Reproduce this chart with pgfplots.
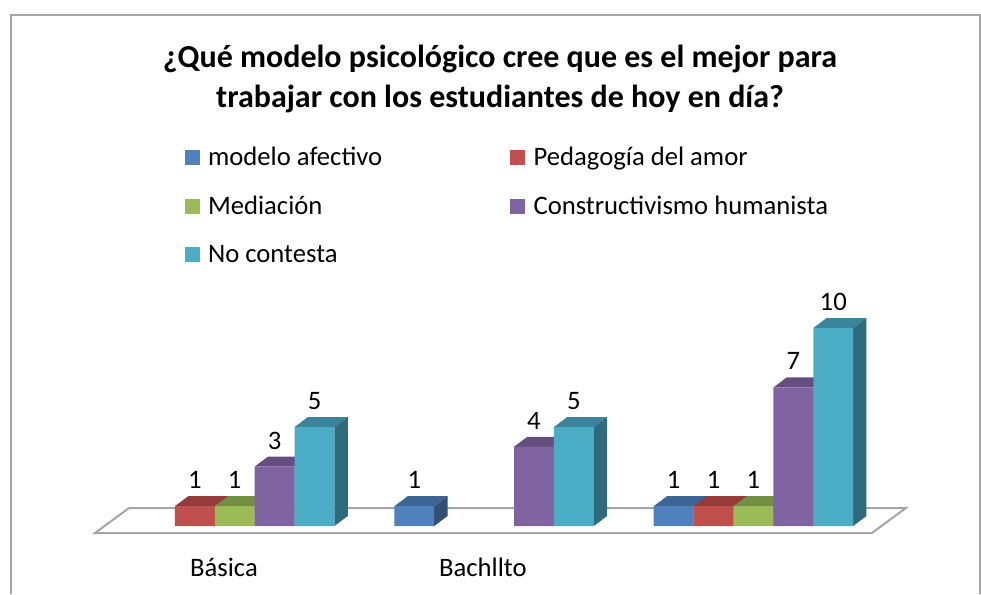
\documentclass[border=0pt]{standalone}
\usepackage{pgfplots}
\usepackage{pgfplotstable}
\usepackage{fontspec}
\setmainfont{Carlito}
\pgfplotsset{compat=1.18}
\definecolor{cA}{HTML}{4F81BD}\definecolor{cAt}{HTML}{3D6594}\definecolor{cAs}{HTML}{324F74}
\definecolor{cB}{HTML}{C0504D}\definecolor{cBt}{HTML}{953C3A}\definecolor{cBs}{HTML}{76302E}
\definecolor{cC}{HTML}{9BBB59}\definecolor{cCt}{HTML}{738F41}\definecolor{cCs}{HTML}{5E7535}
\definecolor{cD}{HTML}{8064A2}\definecolor{cDt}{HTML}{654E7F}\definecolor{cDs}{HTML}{4E3D63}
\definecolor{cE}{HTML}{4BACC6}\definecolor{cEt}{HTML}{3A859B}\definecolor{cEs}{HTML}{2F6B7C}
\definecolor{frame}{HTML}{A6A6A6}
% x = bar centre in bar slots, y = value
\pgfplotstableread{
x y
7 1
13.5 1
}\tA
\pgfplotstableread{
x y
1.5 1
14.5 1
}\tB
\pgfplotstableread{
x y
2.5 1
15.5 1
}\tC
\pgfplotstableread{
x y
3.5 3
10 4
16.5 7
}\tD
\pgfplotstableread{
x y
4.5 5
11 5
17.5 10
}\tE
% top and side faces of a 3-D bar: centre, value, top colour, side colour
\newcommand\depth[4]{%
  \pgfmathsetmacro\xl{#1-0.5}\pgfmathsetmacro\xr{#1+0.5}%
  \pgfmathsetmacro\xc{#1-0.167}\pgfmathsetmacro\xb{#1+0.833}%
  \pgfmathsetmacro\yb{#2+0.505}%
  \edef\tmp{\noexpand\addplot[forget plot,fill=#3,draw=none] coordinates {(\xl,#2) (\xr,#2) (\xb,\yb) (\xc,\yb)} --cycle;
  \noexpand\addplot[forget plot,fill=#4,draw=none] coordinates {(\xr,0) (\xb,0.505) (\xb,\yb) (\xr,#2)} --cycle;}\tmp}
\begin{document}
\begin{tikzpicture}
\path[use as bounding box] (0,-45.75pt) rectangle (735.75pt,399.75pt);
\draw[frame,line width=1.5pt] (7.9pt,-45.75pt) -- (7.9pt,388.5pt) -- (735pt,388.5pt) -- (735pt,-45.75pt);
\begin{axis}[
  scale only axis, width=735.75pt, height=399.75pt,
  xmin=-3.383, xmax=21.203, ymin=-0.3535, ymax=26.566,
  clip=false, axis line style={draw=none}, tick style={draw=none},
  ytick=\empty, xtick={2.23,8.72}, xticklabels={Básica,Bachllto},
  xticklabel style={anchor=center,yshift=-25.5pt,font=\fontsize{20}{24}\selectfont},
  /pgf/number format/assume math mode=true,
  title={¿Qué modelo psicológico cree que es el mejor para\\trabajar con los estudiantes de hoy en día?},
  title style={at={(0.5097,0.8367)},anchor=center,align=center,font=\fontsize{24}{30}\selectfont\bfseries},
  every node near coord/.append style={anchor=center,yshift=19.5pt,font=\fontsize{20}{24}\selectfont,text=black},
  legend columns=2,
  legend image code/.code={\fill[#1] (0pt,-5.6pt) rectangle (11.25pt,5.6pt);\path (15.5pt,0pt);},
  legend style={at={(0.188,0.7295)},anchor=north west,draw=none,fill=none,inner sep=0pt,
    font=\fontsize{20}{24}\selectfont,row sep=17.4pt,
    /tikz/every odd column/.append style={column sep=0pt},
    /tikz/column 2/.style={column sep=94pt}},
  legend cell align=left,
]
\addplot[forget plot,draw=frame,line width=1.5pt] coordinates {(-1.0025,-0.354) (-0.15,0.909) (19.32,0.909) (18.47,-0.354)} --cycle;
\depth{1.5}{1}{cBt}{cBs}
\depth{2.5}{1}{cCt}{cCs}
\depth{3.5}{3}{cDt}{cDs}
\depth{4.5}{5}{cEt}{cEs}
\depth{7}{1}{cAt}{cAs}
\depth{10}{4}{cDt}{cDs}
\depth{11}{5}{cEt}{cEs}
\depth{13.5}{1}{cAt}{cAs}
\depth{14.5}{1}{cBt}{cBs}
\depth{15.5}{1}{cCt}{cCs}
\depth{16.5}{7}{cDt}{cDs}
\depth{17.5}{10}{cEt}{cEs}
\addplot[ybar,bar width=1,bar shift=0pt,fill=cA,draw=none,nodes near coords] table {\tA};
\addlegendentry{modelo afectivo}
\addplot[ybar,bar width=1,bar shift=0pt,fill=cB,draw=none,nodes near coords] table {\tB};
\addlegendentry{Pedagogía del amor}
\addplot[ybar,bar width=1,bar shift=0pt,fill=cC,draw=none,nodes near coords] table {\tC};
\addlegendentry{Mediación}
\addplot[ybar,bar width=1,bar shift=0pt,fill=cD,draw=none,nodes near coords] table {\tD};
\addlegendentry{Constructivismo humanista}
\addplot[ybar,bar width=1,bar shift=0pt,fill=cE,draw=none,nodes near coords] table {\tE};
\addlegendentry{No contesta}
\end{axis}
\end{tikzpicture}
\end{document}
